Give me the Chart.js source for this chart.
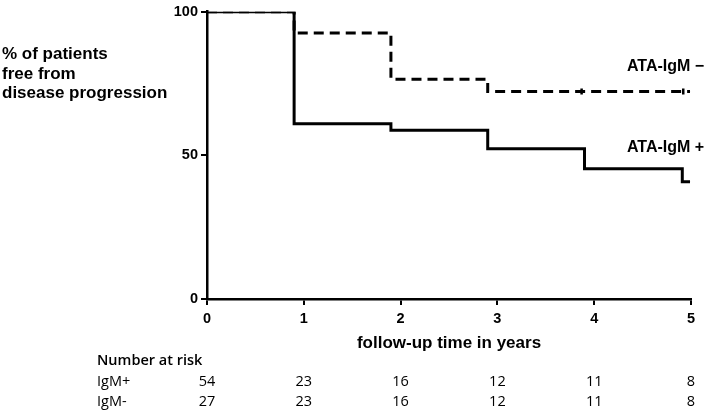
<!DOCTYPE html>
<html>
<head>
<meta charset="utf-8">
<script src="https://cdn.jsdelivr.net/npm/chart.js@4"></script>
<style>
  html, body { margin: 0; padding: 0; background: #fff; }
  #wrap { width: 709px; height: 413px; }
</style>
</head>
<body>
<div id="wrap"><canvas id="km"></canvas></div>
<script>
// Kaplan-Meier curves
const timesPos = [0, 0.9, 1.9, 2.9, 3.9, 4.91, 4.99];
const survPos  = [100, 61.0, 58.7, 52.3, 45.3, 40.8, 40.8];
const timesNeg = [0, 0.9, 1.9, 2.9, 4.92, 4.99];
const survNeg  = [100, 92.6, 76.5, 72.2, 72.2, 72.2];
// censored observations on the IgM- curve
const censorNegTimes = [3.87, 4.92];
const censorNegSurv  = [72.2, 72.2];

// number at risk table
const riskTimes = [0, 1, 2, 3, 4, 5];
const riskPos = [54, 23, 16, 12, 11, 8];
const riskNeg = [27, 23, 16, 12, 11, 8];

function toPoints(xs, ys) {
    return xs.map((x, i) => ({x: x, y: ys[i]}));
}

const extraText = {
    id: 'extraText',
    afterDraw(chart) {
        const ctx = chart.ctx;
        const xs = chart.scales.x;
        ctx.save();
        ctx.fillStyle = '#000';
        ctx.textBaseline = 'middle';

        // y axis title, three lines on the left
        ctx.font = 'bold 17px "Liberation Sans", Arial, sans-serif';
        ctx.textAlign = 'left';
        ctx.fillText('% of patients', 2, 54);
        ctx.fillText('free from', 2, 74);
        ctx.fillText('disease progression', 2, 93);

        // curve labels
        ctx.font = 'bold 16px "Liberation Sans", Arial, sans-serif';
        ctx.fillText('ATA-IgM \u2212', 627, 67);
        ctx.fillText('ATA-IgM +', 627, 148);

        // x axis title
        ctx.font = 'bold 17px "Liberation Sans", Arial, sans-serif';
        ctx.textAlign = 'center';
        ctx.fillText('follow-up time in years', (chart.chartArea.left + chart.chartArea.right) / 2, 343);

        // number at risk
        ctx.textAlign = 'left';
        ctx.font = '600 14.5px "Open Sans", sans-serif';
        ctx.fillText('Number at risk', 97, 361);
        ctx.font = '14.5px "Open Sans", sans-serif';
        ctx.fillText('IgM+', 97, 382);
        ctx.fillText('IgM-', 97, 402);
        ctx.textAlign = 'center';
        riskTimes.forEach((t, i) => {
            const px = xs.getPixelForValue(t);
            ctx.fillText(String(riskPos[i]), px, 382);
            ctx.fillText(String(riskNeg[i]), px, 402);
        });
        ctx.restore();
    }
};

new Chart(document.getElementById('km'), {
    type: 'line',
    data: {
        datasets: [{
                label: 'ATA-IgM +',
                data: toPoints(timesPos, survPos),
                borderColor: '#000',
                borderWidth: 3,
                stepped: 'before',
                pointRadius: 0,
                fill: false
            }, {
                label: 'ATA-IgM -',
                data: toPoints(timesNeg, survNeg),
                borderColor: '#000',
                borderWidth: 3,
                borderDash: [10, 6],
                stepped: 'before',
                pointRadius: 0,
                fill: false
            }, {
                label: 'censored',
                data: toPoints(censorNegTimes, censorNegSurv),
                showLine: false,
                pointStyle: 'line',
                rotation: 90,
                pointRadius: 3,
                borderColor: '#000',
                borderWidth: 2.5
            }]
    },
    options: {
        responsive: true,
        maintainAspectRatio: false,
        animation: false,
        layout: {
            padding: {top: 7, right: 18, left: 0, bottom: 0}
        },
        plugins: {
            legend: {display: false},
            tooltip: {enabled: false}
        },
        scales: {
            x: {
                type: 'linear',
                min: 0,
                max: 5,
                afterFit: scale => { scale.height = 114; },
                border: {display: true, color: '#000', width: 2.5},
                grid: {drawOnChartArea: false, drawTicks: true, tickLength: 6, color: '#000', lineWidth: 2},
                ticks: {
                    stepSize: 1,
                    color: '#000',
                    padding: 5,
                    font: {family: '"Liberation Sans", Arial, sans-serif', size: 14.5, weight: 'bold'}
                }
            },
            y: {
                min: 0,
                max: 100,
                afterFit: scale => { scale.width = 207; },
                border: {display: true, color: '#000', width: 2.5},
                grid: {drawOnChartArea: false, drawTicks: true, tickLength: 6, color: '#000', lineWidth: 2},
                ticks: {
                    stepSize: 50,
                    color: '#000',
                    padding: 3,
                    font: {family: '"Liberation Sans", Arial, sans-serif', size: 14.5, weight: 'bold'}
                }
            }
        }
    },
    plugins: [extraText]
});
</script>
</body>
</html>
